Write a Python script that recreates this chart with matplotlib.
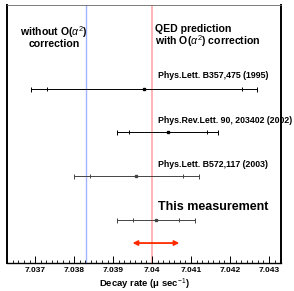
import matplotlib.pyplot as plt
from matplotlib.ticker import MultipleLocator, AutoMinorLocator, FuncFormatter

# Mesures de la largeur de désintégration (μs^-1)
refs = ["Phys.Lett. B357,475 (1995)", "Phys.Rev.Lett. 90, 203402 (2002)",
        "Phys.Lett. B572,117 (2003)", "This measurement"]
centres = [7.0398, 7.0404, 7.0396, 7.0401]
err_stat = [0.0025, 0.0010, 0.0012, 0.0006]
err_tot = [0.0029, 0.0013, 0.0016, 0.0010]
bar_colors = ["black", "black", "#444444", "#444444"]
ypos = [4, 3, 2, 1]

sans_alpha2 = 7.0383   # sans correction O(alpha^2)
qed_alpha2 = 7.0400    # prediction QED avec O(alpha^2)
arrow_lo, arrow_hi = 7.0395, 7.0407

plt.rcParams['font.family'] = ['Liberation Sans', 'DejaVu Sans']
plt.rcParams['mathtext.fontset'] = 'custom'
plt.rcParams['mathtext.rm'] = 'Liberation Sans'
plt.rcParams['mathtext.it'] = 'Liberation Sans:italic'

fig = plt.figure(figsize=(2.94, 2.91), dpi=100)
ax = fig.add_axes([0.024, 0.096, 0.932, 0.887])

ax.axvline(sans_alpha2, color="#9fb3ff", lw=1.0, zorder=1)
ax.axvline(qed_alpha2, color="#ffb4b4", lw=1.4, zorder=1)

for i in range(len(centres)):
    ax.errorbar(centres[i], ypos[i], xerr=err_tot[i], fmt='s', ms=1.8,
                color=bar_colors[i], ecolor=bar_colors[i], elinewidth=0.7,
                capsize=1.8, capthick=0.7, zorder=3)
    ax.plot([centres[i] - err_stat[i], centres[i] + err_stat[i]], [ypos[i], ypos[i]],
            ls='none', marker='|', ms=3.5, mew=0.7, color=bar_colors[i], zorder=3)
    if i < 3:
        ax.text(7.04015, ypos[i] + 0.27 + (0.05 if i == 0 else 0), refs[i],
                fontsize=6.3, fontweight='bold', va='center', ha='left')
    else:
        ax.text(7.04015, ypos[i] + 0.29, refs[i], fontsize=9,
                fontweight='bold', va='center', ha='left')

ax.annotate('', xy=(arrow_lo, 0.46), xytext=(arrow_hi, 0.46),
            arrowprops=dict(arrowstyle='<|-|>', color='#ff2a00', lw=1.3,
                            mutation_scale=7, shrinkA=0, shrinkB=0))

ax.text(7.03749, 5.2, "without O($\\alpha^2$)\ncorrection", fontsize=7.6,
        fontweight='bold', ha='center', va='center', linespacing=0.95)
ax.text(7.04008, 5.2, "QED prediction\nwith O($\\alpha^2$) correction", fontsize=7.6,
        fontweight='bold', ha='left', va='center', linespacing=0.95)

ax.set_xlim(7.03628, 7.04331)
ax.set_ylim(0, 5.93)
ax.set_yticks([])
ax.xaxis.set_major_locator(MultipleLocator(0.001))
ax.xaxis.set_minor_locator(AutoMinorLocator(7))
ax.xaxis.set_major_formatter(FuncFormatter(lambda v, p: "%g" % round(v, 4)))
ax.tick_params(axis='x', which='major', direction='in', length=5, width=0.7,
               labelsize=6, pad=3)
ax.tick_params(axis='x', which='minor', direction='in', length=2.5, width=0.6)
for lab in ax.get_xticklabels():
    lab.set_fontweight('bold')
ax.set_xlabel("Decay rate (μ sec$^{-1}$)", fontsize=6.8, fontweight='bold', labelpad=2)

ax.spines['left'].set_linewidth(1.4)
ax.spines['right'].set_linewidth(1.4)
ax.spines['bottom'].set_linewidth(1.0)
ax.spines['top'].set_linewidth(0.6)
ax.spines['top'].set_color('#666666')

fig.savefig("out.png", dpi=100)
